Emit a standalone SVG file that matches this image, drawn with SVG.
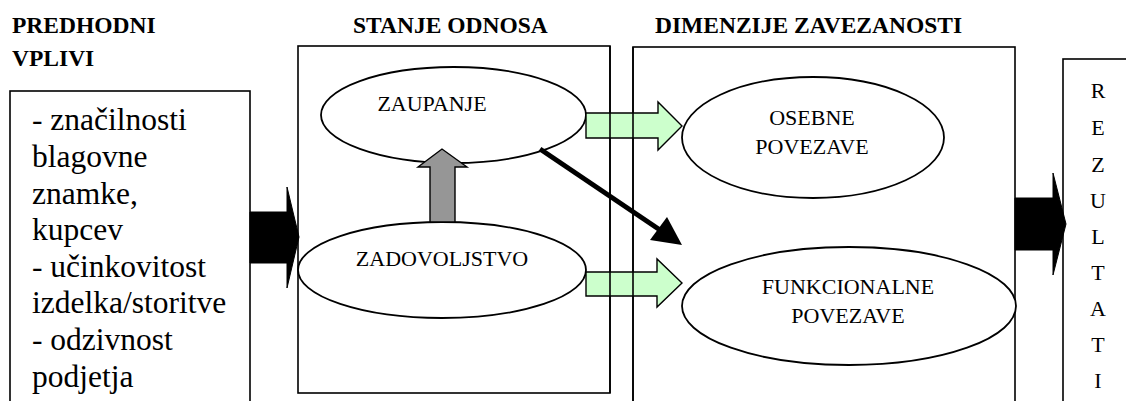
<svg xmlns="http://www.w3.org/2000/svg" width="1126" height="401" viewBox="0 0 1126 401">
  <style>
    text { font-family: "Liberation Serif", "Times New Roman", serif; fill: #000; }
    .hdr { font-weight: bold; font-size: 23.5px; }
    .body { font-size: 31.5px; }
    .lbl { font-size: 22px; text-anchor: middle; }
    .res { font-size: 22px; text-anchor: middle; }
    .box { fill: none; stroke: #000; stroke-width: 1.6; }
    .oval { fill: #fff; stroke: #000; stroke-width: 1.8; }
    .block { fill: #000; stroke: #000; stroke-width: 1; }
    .green { fill: #ccffcc; stroke: #000; stroke-width: 1.4; }
    .grey { fill: #969696; stroke: #000; stroke-width: 1.4; }
  </style>

  <rect width="1126" height="401" fill="#fff"/>

  <!-- column headings -->
  <g id="headings">
    <text class="hdr" x="12" y="33">PREDHODNI</text>
    <text class="hdr" x="12" y="66">VPLIVI</text>
    <text class="hdr" x="353" y="33">STANJE ODNOSA</text>
    <text class="hdr" x="655" y="33">DIMENZIJE ZAVEZANOSTI</text>
  </g>

  <!-- antecedents -->
  <g id="predhodni-vplivi">
    <rect class="box" x="10" y="91" width="240" height="340"/>
    <text class="body" x="32" y="130">- značilnosti</text>
    <text class="body" x="32" y="167">blagovne</text>
    <text class="body" x="32" y="204">znamke,</text>
    <text class="body" x="32" y="240">kupcev</text>
    <text class="body" x="32" y="277">- učinkovitost</text>
    <text class="body" x="32" y="313">izdelka/storitve</text>
    <text class="body" x="32" y="350">- odzivnost</text>
    <text class="body" x="32" y="387">podjetja</text>
  </g>

  <!-- relationship state -->
  <g id="stanje-odnosa">
    <rect class="box" x="298" y="46" width="312" height="347"/>
  </g>
  <g id="zaupanje">
    <ellipse class="oval" cx="453.5" cy="115" rx="132.5" ry="48"/>
    <text class="lbl" x="432" y="111">ZAUPANJE</text>
  </g>
  <g id="zadovoljstvo">
    <ellipse class="oval" cx="442" cy="270" rx="144" ry="48"/>
    <text class="lbl" x="442" y="266">ZADOVOLJSTVO</text>
  </g>

  <!-- commitment dimensions -->
  <g id="dimenzije-zavezanosti">
    <rect class="box" x="633" y="47" width="382" height="380"/>
  </g>
  <g id="osebne-povezave">
    <ellipse class="oval" cx="813" cy="137.5" rx="131" ry="60.5"/>
    <text class="lbl" x="812" y="125">OSEBNE</text>
    <text class="lbl" x="812" y="154">POVEZAVE</text>
  </g>
  <g id="funkcionalne-povezave">
    <ellipse class="oval" cx="849" cy="306" rx="167" ry="59"/>
    <text class="lbl" x="848" y="294">FUNKCIONALNE</text>
    <text class="lbl" x="848" y="323">POVEZAVE</text>
  </g>

  <!-- outcomes -->
  <g id="rezultati">
    <rect class="box" x="1063" y="59" width="90" height="380"/>
    <text class="res" x="1098" y="98">R</text>
    <text class="res" x="1098" y="135">E</text>
    <text class="res" x="1098" y="172">Z</text>
    <text class="res" x="1098" y="208">U</text>
    <text class="res" x="1098" y="244">L</text>
    <text class="res" x="1098" y="280">T</text>
    <text class="res" x="1098" y="316">A</text>
    <text class="res" x="1098" y="352">T</text>
    <text class="res" x="1098" y="388">I</text>
  </g>

  <!-- connectors -->
  <g id="connectors">
    <polygon class="block" points="250,212 287,212 287,187 299,237 287,288 287,263 250,263"/>
    <polygon class="block" points="1015,198 1053,198 1053,173 1066,224 1053,275 1053,250 1015,250"/>
    <polygon class="grey" points="430,222 430,167 418,167 442,149 467,167 455,167 455,222"/>
    <polygon class="green" points="586,113 658,113 658,102 682,126 658,150 658,138 586,138"/>
    <polygon class="green" points="586,272 657,272 657,259 682,283 657,307 657,296 586,296"/>
    <line x1="540" y1="149" x2="660" y2="230" stroke="#000" stroke-width="5"/>
    <polygon points="650,240 667,217 682,245" fill="#000"/>
  </g>

  <!-- box edges stay visible across the green arrows -->
  <g id="box-edges">
    <line x1="610" y1="46" x2="610" y2="393" stroke="#000" stroke-width="1.6"/>
    <line x1="633" y1="47" x2="633" y2="401" stroke="#000" stroke-width="1.6"/>
  </g>
</svg>
